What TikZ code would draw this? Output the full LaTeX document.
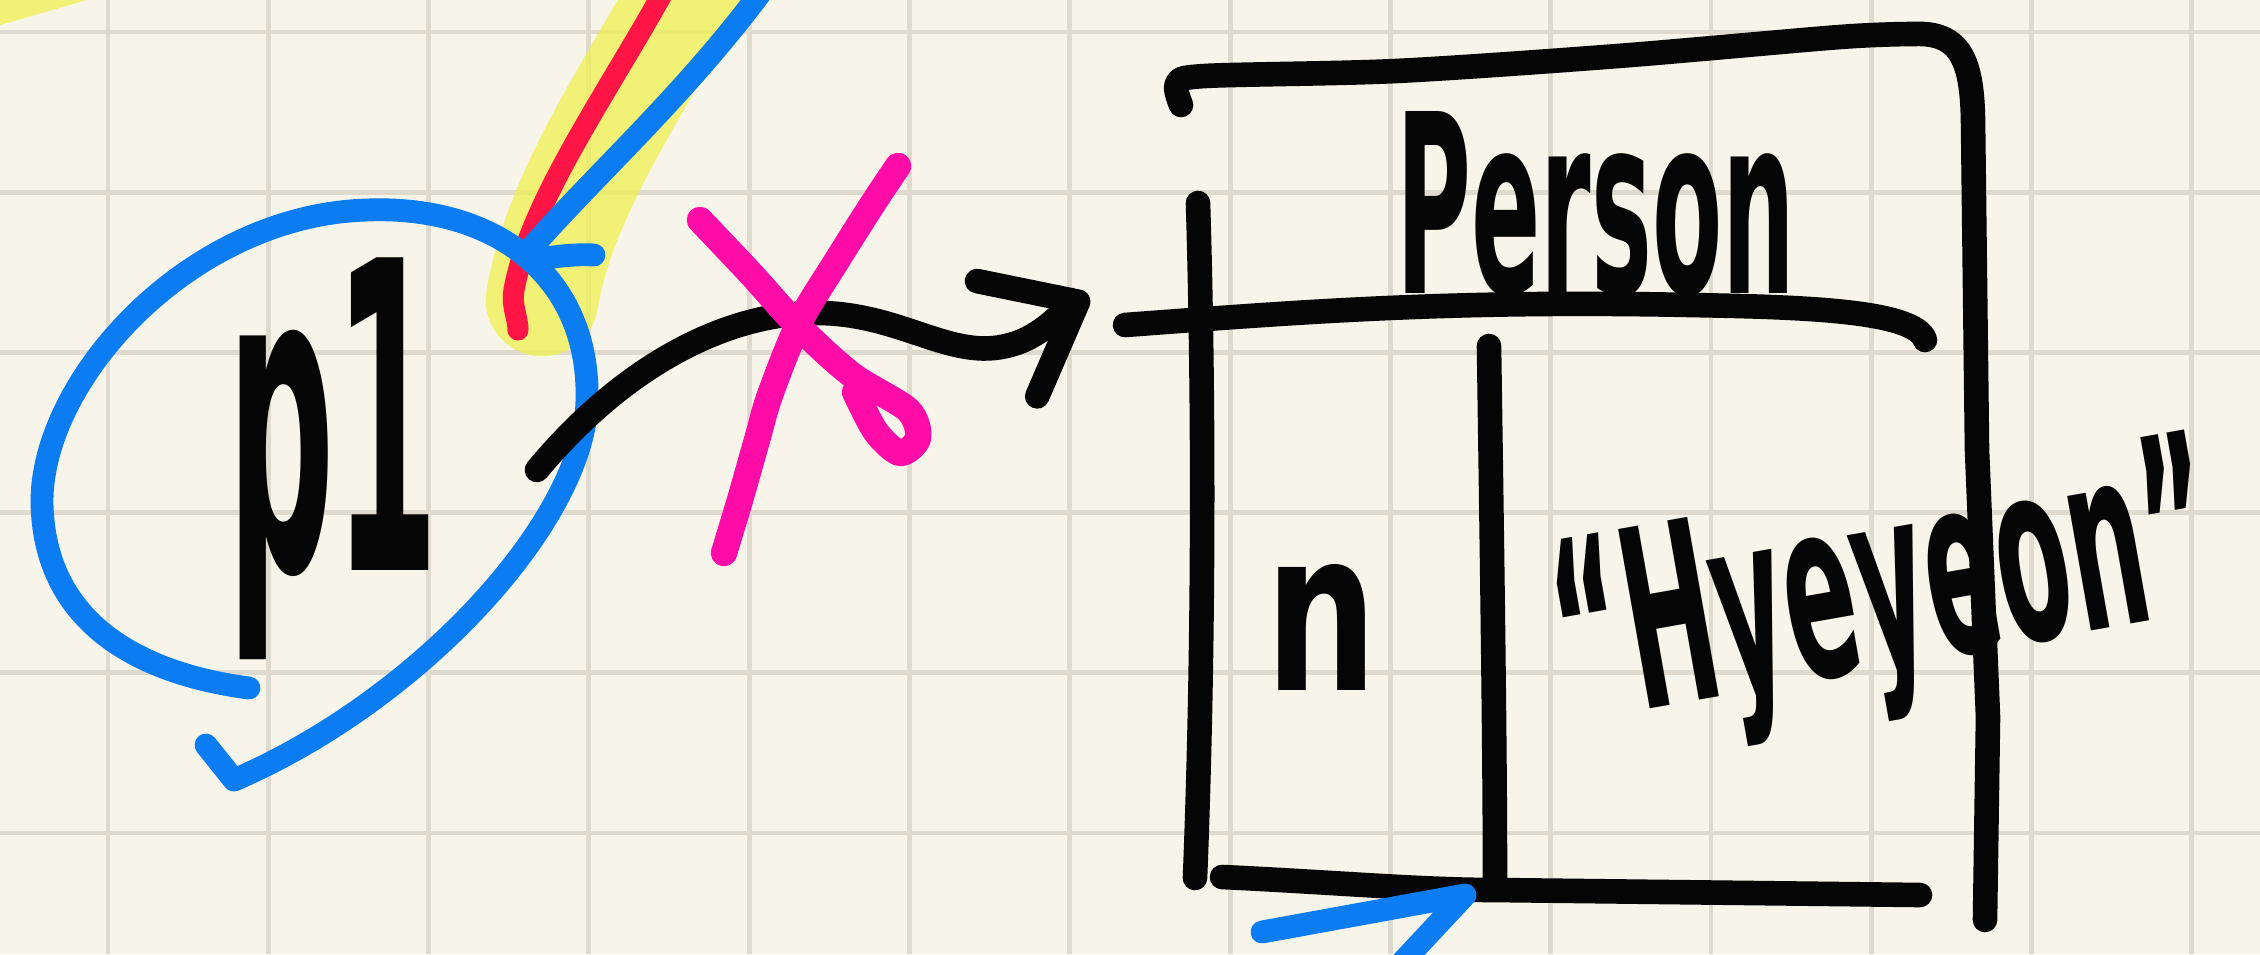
\documentclass[tikz,border=0pt]{standalone}
\usepackage{fontspec}
\newfontfamily\handfont{DejaVu Sans}
\usepackage{graphicx}
\usetikzlibrary{arrows.meta}
\definecolor{Paper}{HTML}{F7F5E9}
\definecolor{Grid}{HTML}{DEDACD}
\definecolor{Marker}{HTML}{EFF04F}
\definecolor{Ink}{HTML}{050505}
\definecolor{Pen}{HTML}{0B7CF2}
\definecolor{Cherry}{HTML}{FF1647}
\definecolor{Hot}{HTML}{FF0BA8}
\tikzset{
  ink/.style={draw=Ink,line width=7pt,line cap=round,line join=round},
  bluepen/.style={ink,draw=Pen,line width=6.5pt},
  redpen/.style={ink,draw=Cherry,line width=6pt},
  pinkpen/.style={ink,draw=Hot,line width=7.5pt},
  marker/.style={draw=Marker,line width=32pt,line cap=round,opacity=0.75},
  gridline/.style={draw=Grid,line width=1.4pt},
  hand/.style={font=\handfont\bfseries,text=Ink,inner sep=0pt,anchor=base},
  ptr/.style={ink,-{Straight Barb[length=8mm,width=13mm,round]}}
}

\begin{document}
\begin{tikzpicture}[x=0.01cm,y=-0.01cm]
  \useasboundingbox (0,0) rectangle (2260,954);
  \clip (0,0) rectangle (2260,954);
  \fill[Paper] (0,0) rectangle (2260,954);
  % paper grid
  \foreach \gx in {0,...,13} \draw[gridline] ({108+160.3*\gx},0) -- ++(0,954);
  \foreach \gy in {0,...,5} \draw[gridline] (0,{32+160.2*\gy}) -- ++(2260,0);

  % highlighter and pens from above
  \draw[marker] (-60,-16) -- (150,-77);
  \draw[marker] (705,-40) .. controls (640,80) and (560,190) .. (542,300);
  \draw[redpen] (670,-20) .. controls (610,90) and (530,200) .. (514,290) .. controls (511,305) and (518,318) .. (518,330);
  \draw[bluepen] (770,-20) .. controls (690,90) and (600,170) .. (533,246);
  \draw[bluepen] (545,258) .. controls (560,256) and (578,254) .. (594,255);

  % the variable
  \draw[bluepen] (249,688) .. controls (150,675) and (45,630) .. (42,504)
    .. controls (40,380) and (190,215) .. (367,210)
    .. controls (500,205) and (590,280) .. (587,400)
    .. controls (585,520) and (420,700) .. (234,780) -- (206,745);
  \node[hand] (pvar) at (333,570) {\fontsize{122pt}{122pt}\selectfont\scalebox{0.35}[1]{p1}};

  % reference, crossed out
  \coordinate (ptrstart) at (537,470);
  \coordinate (ptrend) at (1089,296);
  \draw[ptr] (ptrstart) .. controls (620,370) and (720,315) .. (811,313) .. controls (900,311) and (950,362) .. (1010,345) .. controls (1042,337) and (1066,308) .. (ptrend);
  \draw[pinkpen] plot[smooth] coordinates {(700,220) (752,275) (799,327) (852,375) (908,410) (918,438) (900,453) (876,432) (855,392)};
  \draw[pinkpen] plot[smooth] coordinates {(898,166) (872,205) (836,262) (799,323) (770,395) (757,440) (740,500) (724,553)};

  % Person object
  \draw[ink] plot[smooth,tension=0.5] coordinates {(1181,105) (1177,84) (1205,76) (1396,71) (1618,56) (1840,37) (1914,34)} .. controls (1960,32) and (1972,60) .. (1973,120) -- (1977,450) -- (1988,717) -- (1985,920);
  \draw[ink] (1198,203) .. controls (1204,400) and (1204,650) .. (1195,878);
  \draw[ink] (1125,325) .. controls (1300,312) and (1450,300) .. (1690,305) .. controls (1800,307) and (1915,310) .. (1925,340);
  \draw[ink] (1489,346) .. controls (1492,550) and (1495,750) .. (1495,882);
  \draw[ink] (1222,877) .. controls (1330,882) and (1420,890) .. (1495,890) -- (1920,895);
  \node[hand] (title) at (1596,293) {\fontsize{71pt}{71pt}\selectfont\scalebox{0.41}[1]{Person}};
  \node[hand] (fieldname) at (1322,690) {\fontsize{64pt}{64pt}\selectfont\scalebox{0.7}[1]{n}};
  \node[hand,rotate=10] (fieldval) at (1899,665) {\fontsize{71pt}{71pt}\selectfont\scalebox{0.43}[1]{“Hyeyeon”}};

  % pointer coming in from below
  \draw[bluepen] (1262,932) -- (1465,895) -- (1395,970);
\end{tikzpicture}
\end{document}
